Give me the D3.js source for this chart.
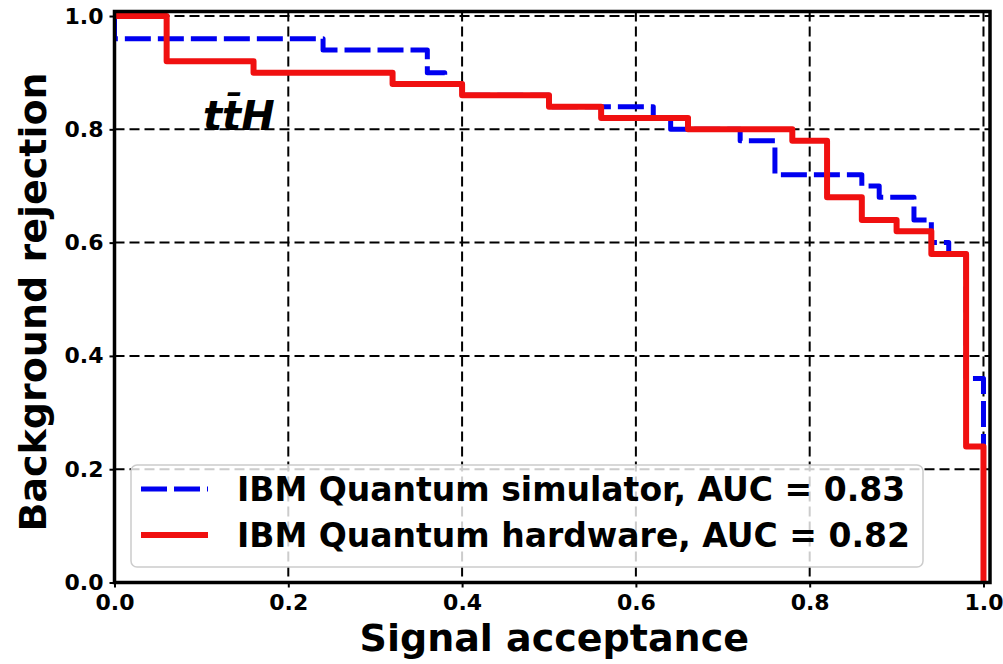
<!DOCTYPE html>
<html>
<head>
<meta charset="utf-8">
<script src="https://cdn.jsdelivr.net/npm/d3@7"></script>
<style>
  html, body { margin: 0; padding: 0; background: #fff; }
  svg { display: block; }
  text { font-family: "DejaVu Sans", sans-serif; font-weight: bold; fill: #000; }
</style>
</head>
<body>
<svg id="chart" width="1003" height="664"></svg>
<script>
// ROC corner points (signal acceptance, background rejection), drawn as step-after curves
const simAcceptance = [0, 0, 0.24, 0.36, 0.38, 0.40, 0.50, 0.62, 0.64, 0.72, 0.76, 0.86, 0.88, 0.92, 0.94, 0.96, 0.98, 1.0];
const simRejection  = [1, 0.96, 0.94, 0.90, 0.88, 0.86, 0.84, 0.82, 0.80, 0.78, 0.72, 0.70, 0.68, 0.64, 0.60, 0.58, 0.36, 0.0];

const hwAcceptance = [0, 0.06, 0.16, 0.32, 0.40, 0.50, 0.56, 0.66, 0.78, 0.82, 0.86, 0.90, 0.94, 0.98, 1.0];
const hwRejection  = [1, 0.92, 0.90, 0.88, 0.86, 0.84, 0.82, 0.80, 0.78, 0.68, 0.64, 0.62, 0.58, 0.24, 0.0];

const tickValues = [0.0, 0.2, 0.4, 0.6, 0.8, 1.0];
const tickLabels = ["0.0", "0.2", "0.4", "0.6", "0.8", "1.0"];

const seriesNames = ["IBM Quantum simulator, AUC = 0.83", "IBM Quantum hardware, AUC = 0.82"];
const xTitle = "Signal acceptance";
const yTitle = "Background rejection";

const svg = d3.select("#chart");

const plotL = 114.5, plotR = 990, plotT = 11.5, plotB = 582.5;
const x = d3.scaleLinear().domain([0, 1.0075]).range([plotL, plotR]);
const y = d3.scaleLinear().domain([0, 1.008]).range([plotB, plotT]);

// clip region for the plotted curves
svg.append("defs").append("clipPath").attr("id", "plotClip")
  .append("rect").attr("x", plotL).attr("y", plotT)
  .attr("width", plotR - plotL).attr("height", plotB - plotT);

// dashed grid
const grid = svg.append("g");
grid.selectAll("line.gx").data(tickValues).join("line")
  .attr("x1", d => x(d)).attr("x2", d => x(d))
  .attr("y1", plotT).attr("y2", plotB)
  .attr("stroke", "#000").attr("stroke-width", 2).attr("stroke-dasharray", "10,5");
grid.selectAll("line.gy").data(tickValues).join("line")
  .attr("y1", d => y(d)).attr("y2", d => y(d))
  .attr("x1", plotL).attr("x2", plotR)
  .attr("stroke", "#000").attr("stroke-width", 2).attr("stroke-dasharray", "10,5");

const line = d3.line().x(d => x(d[0])).y(d => y(d[1])).curve(d3.curveStepAfter);

const simPts = simAcceptance.map((a, i) => [a, simRejection[i]]);
const hwPts = hwAcceptance.map((a, i) => [a, hwRejection[i]]);

const curves = svg.append("g").attr("clip-path", "url(#plotClip)");
curves.append("path").datum(simPts)
  .attr("d", line).attr("fill", "none")
  .attr("stroke", "#0000f0").attr("stroke-width", 5)
  .attr("stroke-dasharray", "26,7").attr("stroke-linejoin", "round");
curves.append("path").datum(hwPts)
  .attr("d", line).attr("fill", "none")
  .attr("stroke", "#f01010").attr("stroke-width", 6)
  .attr("stroke-linejoin", "round").attr("stroke-linecap", "square");

// axes
const xAxis = d3.axisBottom(x).tickValues(tickValues).tickFormat((d, i) => tickLabels[i])
  .tickSize(5).tickPadding(6);
const yAxis = d3.axisLeft(y).tickValues(tickValues).tickFormat((d, i) => tickLabels[i])
  .tickSize(5).tickPadding(6);

const gx = svg.append("g").attr("transform", `translate(0,${plotB})`).call(xAxis);
const gy = svg.append("g").attr("transform", `translate(${plotL},0)`).call(yAxis);
[gx, gy].forEach(g => {
  g.select(".domain").remove();
  g.selectAll(".tick line").attr("stroke", "#000").attr("stroke-width", 2);
  g.selectAll(".tick text").attr("font-size", 22).attr("font-family", "DejaVu Sans")
    .attr("font-weight", "bold").attr("fill", "#000");
});
gx.selectAll(".tick text").attr("dy", "0.75em");

// frame
svg.append("rect").attr("x", plotL).attr("y", plotT)
  .attr("width", plotR - plotL).attr("height", plotB - plotT)
  .attr("fill", "none").attr("stroke", "#000").attr("stroke-width", 3.5);

// axis titles
svg.append("text").attr("x", (plotL + plotR) / 2 + 2).attr("y", 651)
  .attr("text-anchor", "middle").attr("font-size", 38).text(xTitle);
svg.append("text").attr("transform", `translate(46,${(plotT + plotB) / 2 + 5}) rotate(-90)`)
  .attr("text-anchor", "middle").attr("font-size", 38).text(yTitle);

// process label
svg.append("text").attr("x", 203).attr("y", 130)
  .attr("font-size", 40).attr("font-style", "italic")
  .text("tt\u0304H");

// legend
const lg = svg.append("g");
lg.append("rect").attr("x", 131).attr("y", 465).attr("width", 792).attr("height", 102)
  .attr("rx", 6).attr("fill", "#fff").attr("fill-opacity", 0.8)
  .attr("stroke", "#cccccc").attr("stroke-width", 1.5);
const legendRows = [
  { name: seriesNames[0], color: "#0000f0", dash: "26,7", width: 5, cy: 489 },
  { name: seriesNames[1], color: "#f01010", dash: null, width: 6, cy: 535 }
];
legendRows.forEach(r => {
  lg.append("line").attr("x1", 141).attr("x2", 208).attr("y1", r.cy).attr("y2", r.cy)
    .attr("stroke", r.color).attr("stroke-width", r.width)
    .attr("stroke-dasharray", r.dash);
  lg.append("text").attr("x", 237).attr("y", r.cy + 12)
    .attr("font-size", 33).text(r.name);
});
</script>
</body>
</html>
